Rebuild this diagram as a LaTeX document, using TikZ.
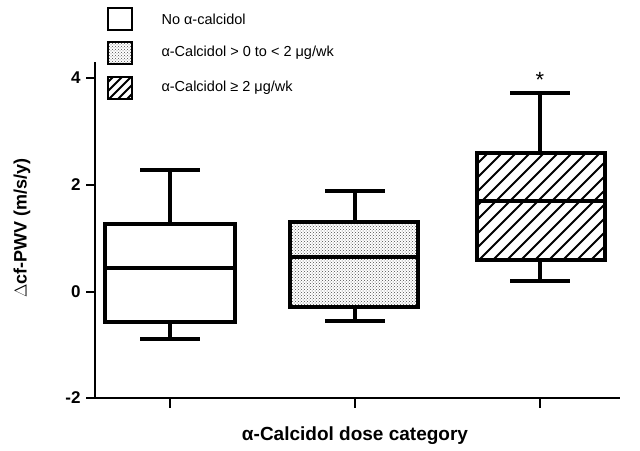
\documentclass[tikz,border=0pt]{standalone}
\usepackage{fontspec}
\setmainfont{Liberation Sans}
\usetikzlibrary{patterns}
\begin{document}
\begin{tikzpicture}[x=1pt,y=-1pt,
  ln/.style={line width=3.4pt},
  bx/.style={line width=3.4pt,fill=white},
  tk/.style={font=\bfseries\fontsize{17}{17}\selectfont}]
\useasboundingbox (0,0) rectangle (640,450);
% axes
\draw[line width=2.2pt] (95,62) -- (95,398) -- (620,398);
\foreach \y/\l in {78/4,185/2,292/0,398/-2}{
  \draw[line width=2.2pt] (86,\y) -- (95,\y);
  \node[tk,anchor=east] (t\l) at (84,\y) {\l};}
\foreach \x in {170,355,540}{\draw[line width=2.2pt] (\x,398) -- (\x,408);}
\node[font=\bfseries\fontsize{18}{18}\selectfont,rotate=90] (yl) at (22,228) {$\Delta$cf-PWV (m/s/y)};
\node[font=\bfseries\fontsize{19}{19}\selectfont] (xl) at (355,436) {α-Calcidol dose category};
% box 1
\draw[ln] (170,339) -- (170,170); \draw[ln] (140,339) -- (200,339); \draw[ln] (140,170) -- (200,170);
\draw[bx] (105,224) rectangle (235,322); \draw[ln] (105,268) -- (235,268);
% box 2
\draw[ln] (355,321) -- (355,191); \draw[ln] (325,321) -- (385,321); \draw[ln] (325,191) -- (385,191);
\fill[white] (290,222) rectangle (418,307);
\fill[pattern=crosshatch dots,pattern color=black!70] (290,222) rectangle (418,307);
\draw[ln] (290,222) rectangle (418,307); \draw[ln] (290,257) -- (418,257);
% box 3
\draw[ln] (540,281) -- (540,93); \draw[ln] (510,281) -- (570,281); \draw[ln] (510,93) -- (570,93);
\draw[bx] (477,153) rectangle (605,260);
\begin{scope}\clip (477,153) rectangle (605,260);
\foreach \i in {-8,...,14}{\draw[line width=2pt] (477+\i*14,262) -- (477+\i*14+110,152);}
\end{scope}
\draw[ln] (477,153) rectangle (605,260); \draw[ln] (477,201) -- (605,201);
\node[font=\fontsize{22}{22}\selectfont] (star) at (540,80) {*};
% legend
\draw[line width=2.8pt] (108,8) rectangle (132,30);
\fill[pattern=crosshatch dots,pattern color=black!70] (108,42) rectangle (132,64);
\draw[line width=2.8pt] (108,42) rectangle (132,64);
\begin{scope}\clip (108,77) rectangle (132,99);
\foreach \i in {-2,...,3}{\draw[line width=1.8pt] (108+\i*9,100) -- (108+\i*9+24,76);}
\end{scope}
\draw[line width=2.8pt] (108,77) rectangle (132,99);
\node[anchor=west,font=\fontsize{14.5}{14.5}\selectfont] (l1) at (158,19) {No α-calcidol};
\node[anchor=west,font=\fontsize{14.5}{14.5}\selectfont] (l2) at (158,53) {α-Calcidol > 0 to < 2 μg/wk};
\node[anchor=west,font=\fontsize{14.5}{14.5}\selectfont] (l3) at (158,88) {α-Calcidol ≥ 2 μg/wk};
\end{tikzpicture}
\end{document}
